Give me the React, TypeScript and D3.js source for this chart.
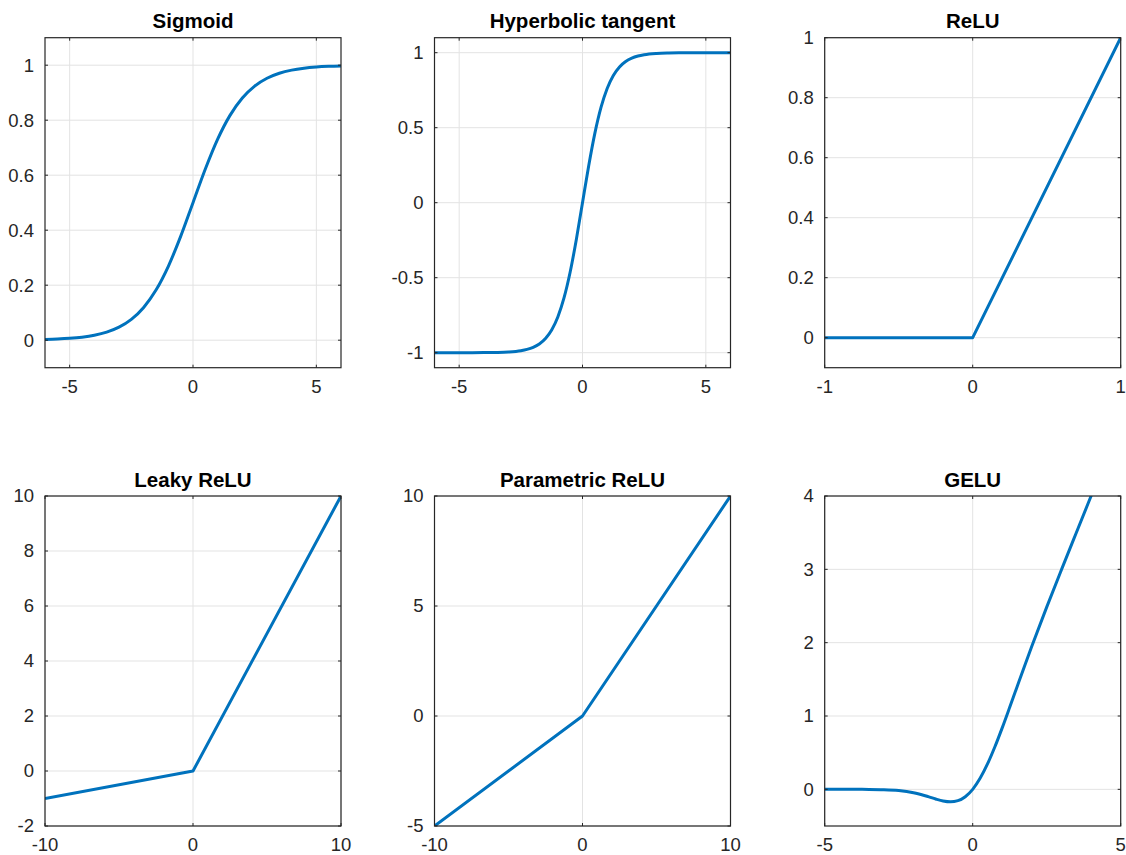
import React from "react";
import * as d3 from "d3";

// ---------- data ----------
const sigmoidX = [-6, -5.5, -5, -4.5, -4, -3.5, -3, -2.5, -2, -1.5, -1, -0.5, 0, 0.5, 1, 1.5, 2, 2.5, 3, 3.5, 4, 4.5, 5, 5.5, 6];
const sigmoidY = [0.00247, 0.00407, 0.00669, 0.01099, 0.01799, 0.02931, 0.04743, 0.07586, 0.1192, 0.1824, 0.2689, 0.3775, 0.5, 0.6225, 0.7311, 0.8176, 0.8808, 0.9241, 0.9526, 0.9707, 0.982, 0.989, 0.9933, 0.9959, 0.9975];

const tanhX = [-6, -5.5, -5, -4.5, -4, -3.5, -3, -2.5, -2.25, -2, -1.75, -1.5, -1.25, -1, -0.75, -0.5, -0.25, 0, 0.25, 0.5, 0.75, 1, 1.25, 1.5, 1.75, 2, 2.25, 2.5, 3, 3.5, 4, 4.5, 5, 5.5, 6];
const tanhY = [-0.99999, -0.99997, -0.99991, -0.99975, -0.9993, -0.9982, -0.9951, -0.9866, -0.978, -0.964, -0.9414, -0.9051, -0.8483, -0.7616, -0.6351, -0.4621, -0.2449, 0, 0.2449, 0.4621, 0.6351, 0.7616, 0.8483, 0.9051, 0.9414, 0.964, 0.978, 0.9866, 0.9951, 0.9982, 0.9993, 0.99975, 0.99991, 0.99997, 0.99999];

const reluX = [-1, 0, 1];
const reluY = [0, 0, 1];

const leakyX = [-10, 0, 10];
const leakyY = [-1, 0, 10];

const preluX = [-10, 0, 10];
const preluY = [-5, 0, 10];

const geluX = [-5, -4.5, -4, -3.5, -3, -2.5, -2, -1.75, -1.5, -1.25, -1, -0.75, -0.5, -0.25, 0, 0.25, 0.5, 0.75, 1, 1.25, 1.5, 1.75, 2, 2.5, 3, 3.5, 4, 4.5, 5];
const geluY = [0, -0.00002, -0.00013, -0.00081, -0.00405, -0.0155, -0.0455, -0.0701, -0.1002, -0.1321, -0.1587, -0.17, -0.1543, -0.1003, 0, 0.1497, 0.3457, 0.58, 0.8413, 1.1179, 1.3998, 1.6799, 1.9545, 2.4845, 2.996, 3.4992, 3.9999, 4.5, 5];

const titles = ["Sigmoid", "Hyperbolic tangent", "ReLU", "Leaky ReLU", "Parametric ReLU", "GELU"];

const xDomains: [number, number][] = [[-6, 6], [-6, 6], [-1, 1], [-10, 10], [-10, 10], [-5, 5]];
const yDomains: [number, number][] = [[-0.1, 1.1], [-1.1, 1.1], [-0.1, 1], [-2, 10], [-5, 10], [-0.5, 4]];

const xTicks = [[-5, 0, 5], [-5, 0, 5], [-1, 0, 1], [-10, 0, 10], [-10, 0, 10], [-5, 0, 5]];
const yTicks = [
  [0, 0.2, 0.4, 0.6, 0.8, 1],
  [-1, -0.5, 0, 0.5, 1],
  [0, 0.2, 0.4, 0.6, 0.8, 1],
  [-2, 0, 2, 4, 6, 8, 10],
  [-5, 0, 5, 10],
  [0, 1, 2, 3, 4],
];

const seriesX = [sigmoidX, tanhX, reluX, leakyX, preluX, geluX];
const seriesY = [sigmoidY, tanhY, reluY, leakyY, preluY, geluY];
const smooth = [true, true, false, false, false, true];

// ---------- layout ----------
const W = 1126;
const H = 855;
const colLeft = [45, 434.5, 824.7];
const rowTop = [37.7, 496];
const panelW = 296;
const panelH = 330;

const AXIS = "#262626";
const GRID = "#e3e3e3";
const LINE = "#0072BD";
const FONT = "'Liberation Sans', Arial, Helvetica, sans-serif";

function fmt(v: number) {
  return String(v).replace(/^0\./, "0.").replace(/^-0\./, "-0.");
}

function Panel({ i }: { i: number }) {
  const left = colLeft[i % 3];
  const top = rowTop[Math.floor(i / 3)];
  const x = d3.scaleLinear().domain(xDomains[i]).range([left, left + panelW]);
  const y = d3.scaleLinear().domain(yDomains[i]).range([top + panelH, top]);
  const pts: [number, number][] = seriesX[i].map((v, k) => [v, seriesY[i][k]]);
  const line = d3
    .line<[number, number]>()
    .x((d) => x(d[0]))
    .y((d) => y(d[1]))
    .curve(smooth[i] ? d3.curveMonotoneX : d3.curveLinear);
  const clipId = `clip${i}`;
  const tl = 3;
  const bottom = top + panelH;
  const right = left + panelW;
  return (
    <g>
      <defs>
        <clipPath id={clipId}>
          <rect x={left} y={top} width={panelW} height={panelH} />
        </clipPath>
      </defs>
      {/* grid */}
      {xTicks[i].map((t) => (
        <line key={"gx" + t} x1={x(t)} x2={x(t)} y1={top} y2={bottom} stroke={GRID} strokeWidth={1} />
      ))}
      {yTicks[i].map((t) => (
        <line key={"gy" + t} x1={left} x2={right} y1={y(t)} y2={y(t)} stroke={GRID} strokeWidth={1} />
      ))}
      {/* curve */}
      <path d={line(pts) || ""} fill="none" stroke={LINE} strokeWidth={3} strokeLinejoin="round" clipPath={`url(#${clipId})`} />
      {/* ticks */}
      {xTicks[i].map((t) => (
        <g key={"tx" + t}>
          <line x1={x(t)} x2={x(t)} y1={bottom} y2={bottom - tl} stroke={AXIS} strokeWidth={1} />
          <line x1={x(t)} x2={x(t)} y1={top} y2={top + tl} stroke={AXIS} strokeWidth={1} />
          <text x={x(t)} y={bottom + 25} textAnchor="middle" fontSize={18.5} fill={AXIS} fontFamily={FONT}>
            {fmt(t)}
          </text>
        </g>
      ))}
      {yTicks[i].map((t) => (
        <g key={"ty" + t}>
          <line x1={left} x2={left + tl} y1={y(t)} y2={y(t)} stroke={AXIS} strokeWidth={1} />
          <line x1={right} x2={right - tl} y1={y(t)} y2={y(t)} stroke={AXIS} strokeWidth={1} />
          <text x={left - 11} y={y(t)} dy="0.35em" textAnchor="end" fontSize={18.5} fill={AXIS} fontFamily={FONT}>
            {fmt(t)}
          </text>
        </g>
      ))}
      {/* box */}
      <rect x={left} y={top} width={panelW} height={panelH} fill="none" stroke={AXIS} strokeWidth={1.2} />
      {/* title */}
      <text x={(left + right) / 2} y={top - 9.5} textAnchor="middle" fontSize={20.5} fontWeight="bold" fill="#000" fontFamily={FONT}>
        {titles[i]}
      </text>
    </g>
  );
}

export default function App() {
  return (
    <svg width={W} height={H} style={{ position: "absolute", left: 0, top: 0, background: "#fff" }}>
      <rect x={0} y={0} width={W} height={H} fill="#fff" />
      {titles.map((_, i) => (
        <Panel key={i} i={i} />
      ))}
    </svg>
  );
}
